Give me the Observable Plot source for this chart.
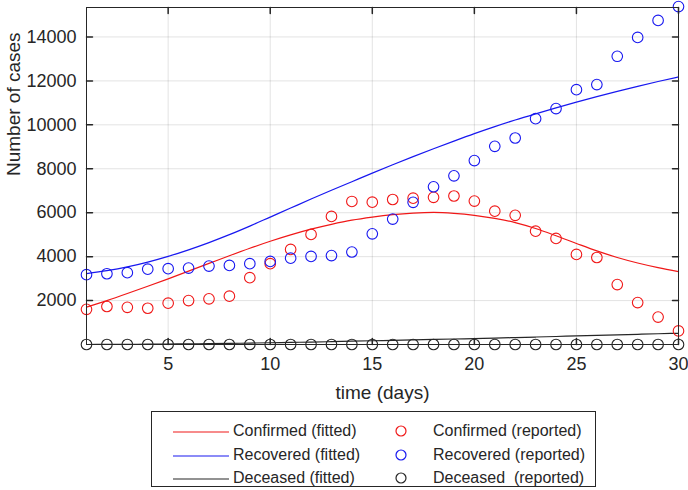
<!DOCTYPE html>
<html>
<head>
<meta charset="utf-8">
<script src="https://cdn.jsdelivr.net/npm/d3@7"></script>
<script src="https://cdn.jsdelivr.net/npm/@observablehq/plot@0.6"></script>
<style>
  html, body { margin: 0; padding: 0; background: #fff; }
  body { width: 688px; height: 490px; position: relative; overflow: hidden; font-family: "Liberation Sans", Arial, sans-serif; color: #262626; }
  #chart { position: absolute; left: 0; top: 0; }
  #legend { position: absolute; left: 151px; top: 411px; width: 445px; height: 76px; border: 1px solid #262626; background: #fff; box-sizing: border-box; }
  .item { position: absolute; font-size: 16px; white-space: pre; line-height: 18px; }
</style>
</head>
<body>
<div id="chart"></div>
<div id="legend"></div>
<script>
const days = d3.range(1, 31);
const confirmedReported = [1600,1730,1690,1650,1880,2000,2080,2200,3040,3680,4330,5010,5830,6510,6480,6600,6660,6700,6760,6530,6070,5880,5160,4830,4100,3960,2730,1910,1250,620];
const recoveredReported = [3180,3220,3270,3430,3450,3480,3570,3600,3680,3780,3930,4010,4050,4210,5040,5710,6470,7180,7680,8370,9020,9400,10280,10740,11600,11830,13120,13980,14750,15380];
const deceasedReported = [0,0,0,0,0,0,0,0,0,0,0,0,0,0,0,0,0,0,0,0,0,0,0,0,0,0,0,0,0,0];
const confirmedFitted = [1700,2000,2320,2650,2990,3340,3690,4040,4380,4700,4990,5250,5470,5660,5800,5910,5980,6010,5970,5880,5740,5550,5280,4950,4600,4260,3960,3710,3500,3320];
const recoveredFitted = [3230,3360,3530,3750,4010,4310,4640,5000,5390,5800,6210,6620,7020,7410,7800,8180,8550,8910,9260,9600,9920,10220,10500,10770,11030,11280,11520,11750,11970,12180];
const deceasedFitted = [0,5,10,15,20,30,40,50,65,80,95,110,130,150,170,190,210,230,250,270,290,315,340,365,390,415,440,465,490,510];

const xTicks = [5,10,15,20,25,30];
const yTicks = [2000,4000,6000,8000,10000,12000,14000];
const xDomain = [1, 30];
const yDomain = [0, 15340];
const xLabel = "time (days)";
const yLabel = "Number of cases";

const seriesNames = ["Confirmed", "Recovered", "Deceased"];
const seriesColors = ["#f01818", "#1818f0", "#262626"];
const fitted = [confirmedFitted, recoveredFitted, deceasedFitted];
const reported = [confirmedReported, recoveredReported, deceasedReported];

const lineRows = fitted.flatMap((arr, s) => arr.map((v, i) => ({day: days[i], value: v, series: seriesNames[s]})));
const dotRows = reported.flatMap((arr, s) => arr.map((v, i) => ({day: days[i], value: v, series: seriesNames[s]})));

const ink = "#262626";
const tickShape = { draw(context, l) { context.moveTo(0, 0); context.lineTo(0, -l); } };

const chart = Plot.plot({
  width: 688,
  height: 405,
  marginLeft: 86,
  marginRight: 10,
  marginTop: 7,
  marginBottom: 61,
  style: { fontFamily: "'Liberation Sans', Arial, sans-serif", background: "#fff", color: ink },
  x: { domain: xDomain, ticks: xTicks },
  y: { domain: yDomain, ticks: yTicks },
  color: { domain: seriesNames, range: seriesColors },
  marks: [
    Plot.gridX(xTicks, { stroke: ink, strokeOpacity: 0.13 }),
    Plot.gridY(yTicks, { stroke: ink, strokeOpacity: 0.13 }),
    Plot.line(lineRows, { x: "day", y: "value", z: "series", stroke: "series", strokeWidth: 1.2, curve: "monotone-x" }),
    Plot.dot(dotRows, { x: "day", y: "value", stroke: "series", r: 5.3, strokeWidth: 1.1 }),
    Plot.frame({ stroke: ink, strokeWidth: 1 }),
    Plot.vector(yTicks, { y: d => d, frameAnchor: "left", length: 6, rotate: 90, anchor: "start", shape: tickShape, stroke: ink }),
    Plot.vector(yTicks, { y: d => d, frameAnchor: "right", length: 6, rotate: -90, anchor: "start", shape: tickShape, stroke: ink }),
    Plot.vector(xTicks, { x: d => d, frameAnchor: "bottom", length: 6, rotate: 0, anchor: "start", shape: tickShape, stroke: ink }),
    Plot.vector(xTicks, { x: d => d, frameAnchor: "top", length: 6, rotate: 180, anchor: "start", shape: tickShape, stroke: ink }),
    Plot.axisX(xTicks, { tickSize: 0, tickPadding: 13, fontSize: 18, fill: ink, label: null, tickFormat: "d" }),
    Plot.axisY(yTicks, { tickSize: 0, tickPadding: 10, fontSize: 18, fill: ink, label: null, tickFormat: "d" }),
    Plot.text([xLabel], { frameAnchor: "bottom", dy: 48, lineAnchor: "middle", fontSize: 19, fill: ink }),
    Plot.text([yLabel], { frameAnchor: "left", dx: -73, rotate: -90, lineAnchor: "middle", fontSize: 19, fill: ink })
  ]
});
document.getElementById("chart").appendChild(chart);

// Legend (HTML + small SVG swatches)
const NS = "http://www.w3.org/2000/svg";
const legend = document.getElementById("legend");
const rowCenters = [20, 43.5, 67];
seriesNames.forEach((name, i) => {
  const cy = rowCenters[i];
  const ls = document.createElementNS(NS, "svg");
  ls.setAttribute("width", 58); ls.setAttribute("height", 6);
  ls.style.position = "absolute";
  ls.style.left = "20px";
  ls.style.top = (cy - 3) + "px";
  const ln = document.createElementNS(NS, "line");
  ln.setAttribute("x1", 1); ln.setAttribute("x2", 57); ln.setAttribute("y1", 3); ln.setAttribute("y2", 3);
  ln.setAttribute("stroke", seriesColors[i]); ln.setAttribute("stroke-width", 1.2);
  ls.appendChild(ln);
  legend.appendChild(ls);

  const t1 = document.createElement("div");
  t1.className = "item";
  t1.style.left = "81px";
  t1.style.top = (cy - 10) + "px";
  t1.textContent = name + " (fitted)";
  legend.appendChild(t1);

  const c = document.createElementNS(NS, "svg");
  c.setAttribute("width", 14); c.setAttribute("height", 14);
  c.style.position = "absolute";
  c.style.left = (249 - 7) + "px";
  c.style.top = (cy - 8) + "px";
  const circ = document.createElementNS(NS, "circle");
  circ.setAttribute("cx", 7); circ.setAttribute("cy", 7); circ.setAttribute("r", 5);
  circ.setAttribute("fill", "none"); circ.setAttribute("stroke", seriesColors[i]); circ.setAttribute("stroke-width", 1.2);
  c.appendChild(circ);
  legend.appendChild(c);

  const t2 = document.createElement("div");
  t2.className = "item";
  t2.style.left = "281px";
  t2.style.top = (cy - 10) + "px";
  t2.textContent = name === "Deceased" ? name + "  (reported)" : name + " (reported)";
  legend.appendChild(t2);
});
</script>
</body>
</html>
